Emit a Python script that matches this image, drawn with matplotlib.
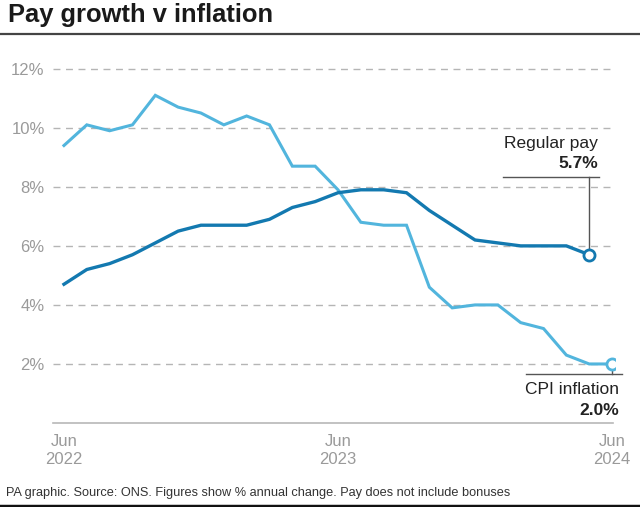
import numpy as np
import matplotlib
matplotlib.use("Agg")
import matplotlib.pyplot as plt
from matplotlib.lines import Line2D

plt.rcParams['font.family'] = ['Liberation Sans', 'DejaVu Sans']

# Datos mensuales, Jun 2022 - Jun 2024
meses = ['Jun\n2022', 'Jul', 'Aug', 'Sep', 'Oct', 'Nov', 'Dec',
         'Jan', 'Feb', 'Mar', 'Apr', 'May', 'Jun\n2023', 'Jul', 'Aug', 'Sep',
         'Oct', 'Nov', 'Dec', 'Jan', 'Feb', 'Mar', 'Apr', 'May', 'Jun\n2024']
cpi = [9.4, 10.1, 9.9, 10.1, 11.1, 10.7, 10.5, 10.1, 10.4, 10.1, 8.7, 8.7,
       7.9, 6.8, 6.7, 6.7, 4.6, 3.9, 4.0, 4.0, 3.4, 3.2, 2.3, 2.0, 2.0]
# Regular pay termina en mayo 2024
paga = [4.7, 5.2, 5.4, 5.7, 6.1, 6.5, 6.7, 6.7, 6.7, 6.9, 7.3, 7.5,
        7.8, 7.9, 7.9, 7.8, 7.2, 6.7, 6.2, 6.1, 6.0, 6.0, 6.0, 5.7]
y_ticks = [2, 4, 6, 8, 10, 12]
x_labels = {0: 'Jun\n2022', 12: 'Jun\n2023', 24: 'Jun\n2024'}

color_cpi = '#52b5dd'
color_paga = '#1379b0'
gris = '#9a9a9a'

fig = plt.figure(figsize=(6.4, 5.07), dpi=100)
ax = fig.add_axes([53 / 640, 1 - 423 / 507, 562 / 640, (423 - 54) / 507])

x_cpi = np.arange(len(cpi))
x_paga = np.arange(len(paga))

for y in y_ticks:
    ax.axhline(y, color='#b5b5b5', lw=1, ls=(0, (5, 4)), zorder=1)

ax.plot(x_cpi, cpi, color=color_cpi, lw=2.2, zorder=3, solid_joinstyle='miter')
ax.plot(x_paga, paga, color=color_paga, lw=2.4, zorder=4, solid_joinstyle='miter')
ax.plot(x_cpi[-1], cpi[-1], 'o', ms=8, mfc='white', mec=color_cpi, mew=2, zorder=6)
ax.plot(x_paga[-1], paga[-1], 'o', ms=8, mfc='white', mec=color_paga, mew=2, zorder=6)

ax.set_xlim(-0.48, 24.13)
ax.set_ylim(0, 12.5)
ax.set_yticks(y_ticks)
ax.set_yticklabels([f'{v}%' for v in y_ticks], color=gris, fontsize=12)
ax.set_xticks(list(x_labels.keys()))
ax.set_xticklabels(list(x_labels.values()), color=gris, fontsize=12, linespacing=1.25)
ax.tick_params(axis='both', length=0)
ax.tick_params(axis='y', pad=6)
ax.tick_params(axis='x', pad=8)
for s in ['top', 'right', 'left']:
    ax.spines[s].set_visible(False)
ax.spines['bottom'].set_color('#b8b8b8')
ax.spines['bottom'].set_linewidth(1.2)
ax.spines['bottom'].set_bounds(-0.48, 24.05)

# Etiqueta Regular pay
xp, yp = x_paga[-1], paga[-1]
y_linea = 8.34
ax.plot([xp, xp], [yp + 0.15, y_linea], color='#555555', lw=1, zorder=5)
ax.plot([xp - 3.78, xp + 0.45], [y_linea, y_linea], color='#555555', lw=1, zorder=5)
ax.text(xp + 0.38, y_linea + 0.2, f'{yp:.1f}%', ha='right', va='bottom',
        fontsize=12.5, fontweight='bold', color='#222222')
ax.text(xp + 0.38, y_linea + 0.86, 'Regular pay', ha='right', va='bottom',
        fontsize=12.5, color='#222222')

# Etiqueta CPI inflation
xc, yc = x_cpi[-1], cpi[-1]
y_linea2 = 1.67
ax.plot([xc, xc], [yc - 0.15, y_linea2], color='#555555', lw=1, zorder=5)
ax.plot([xc - 3.78, xc + 0.45], [y_linea2, y_linea2], color='#555555', lw=1,
        zorder=5, clip_on=False)
ax.text(xc + 0.3, y_linea2 - 0.28, 'CPI inflation', ha='right', va='top',
        fontsize=12.5, color='#222222', clip_on=False)
ax.text(xc + 0.3, y_linea2 - 0.98, f'{yc:.1f}%', ha='right', va='top',
        fontsize=12.5, fontweight='bold', color='#222222', clip_on=False)

# Titulo, lineas y pie
fig.text(8 / 640, 1 - 15 / 507, 'Pay growth v inflation', ha='left', va='center',
         fontsize=18.4, fontweight='bold', color='#1a1a1a')
fig.add_artist(Line2D([0, 1], [1 - 34 / 507, 1 - 34 / 507], color='#444444', lw=1.6))
fig.text(6 / 640, 1 - 493 / 507,
         'PA graphic. Source: ONS. Figures show % annual change. Pay does not include bonuses',
         ha='left', va='center', fontsize=9.2, color='#333333')
fig.add_artist(Line2D([0, 1], [1 - 505.5 / 507, 1 - 505.5 / 507], color='#111111', lw=2.5))

fig.savefig('out.png', dpi=100)
